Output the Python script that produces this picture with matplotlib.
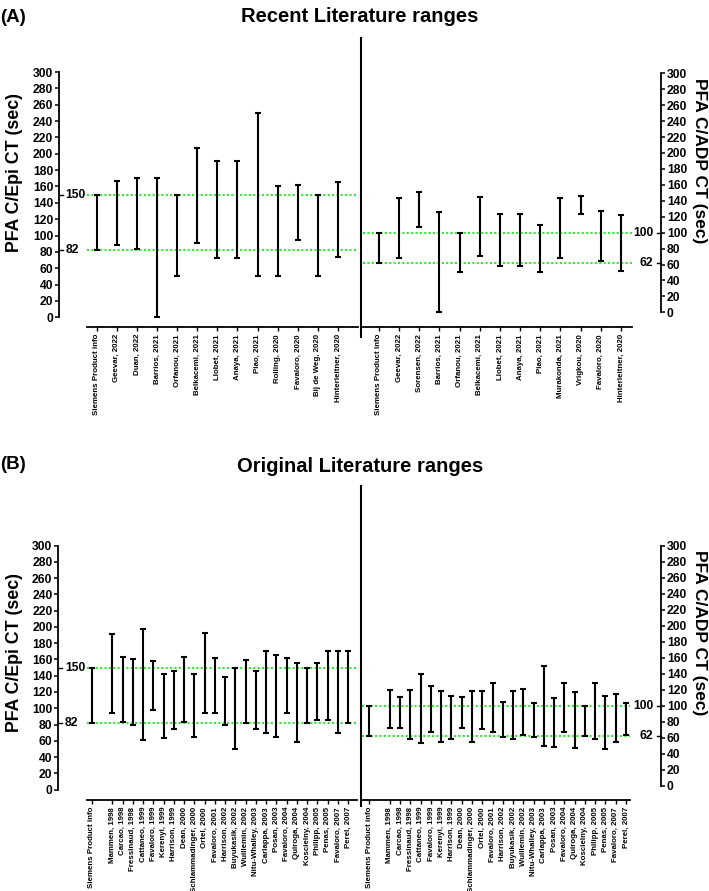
import matplotlib
matplotlib.use("Agg")
import matplotlib.pyplot as plt
from matplotlib.lines import Line2D
from matplotlib.transforms import ScaledTranslation, blended_transform_factory, IdentityTransform

plt.rcParams['font.family'] = ['Liberation Sans', 'DejaVu Sans']
plt.rcParams['font.weight'] = 'bold'

# ---------------- data ----------------
epi_ref = [82, 150]
adp_ref = [62, 100]

cats_a_epi = ["Siemens Product info", "Geevar, 2022", "Duan, 2022", "Barrios, 2021",
              "Orfanou, 2021", "Belkacemi, 2021", "Llobet, 2021", "Anaya, 2021",
              "Piao, 2021", "Rolling, 2020", "Favaloro, 2020", "Bij de Weg, 2020",
              "Hinterleitner, 2020"]
epi_a_low = [82, 89, 84, 0, 50, 91, 72, 72, 50, 50, 94, 50, 74]
epi_a_high = [150, 167, 170, 170, 150, 207, 191, 191, 250, 161, 162, 150, 165]

cats_a_adp = ["Siemens Product info", "Geevar, 2022", "Sorensen, 2022", "Barrios, 2021",
              "Orfanou, 2021", "Belkacemi, 2021", "Llobet, 2021", "Anaya, 2021",
              "Piao, 2021", "Murakonda, 2021", "Vrigkou, 2020", "Favaloro, 2020",
              "Hinterleitner, 2020"]
adp_a_low = [62, 68, 107, 0, 50, 71, 58, 58, 50, 68, 123, 64, 52]
adp_a_high = [100, 143, 151, 126, 100, 145, 123, 123, 110, 143, 146, 127, 122]

cats_b = ["Siemens Product info", "Mammen, 1998", "Carcao, 1998", "Fressinaud, 1998",
          "Cattaneo, 1999", "Favaloro, 1999", "Kerenyi, 1999", "Harrison, 1999",
          "Dean, 2000", "Schlammadinger, 2000", "Ortel, 2000", "Favaloro, 2001",
          "Harrison, 2002", "Buyukasik, 2002", "Wuillemin, 2002", "Nitu-Whalley, 2003",
          "Carlappa, 2003", "Posan, 2003", "Favaloro, 2004", "Quiroga, 2004",
          "Koscielny, 2004", "Philipp, 2005", "Penas, 2005", "Favaloro, 2007",
          "Perel, 2007"]
epi_b_low = [82, 94, 83, 80, 61, 98, 63, 74, 83, 65, 94, 94, 79, 50, 82, 74, 70, 65,
             94, 59, 82, 86, 85, 70, 82]
epi_b_high = [150, 191, 163, 160, 197, 158, 142, 146, 163, 142, 193, 162, 139, 150,
              159, 146, 170, 165, 162, 156, 150, 156, 171, 170, 170]
adp_b_low = [62, 72, 72, 59, 54, 67, 55, 59, 72, 55, 71, 67, 61, 58, 63, 61, 50, 49,
             67, 47, 62, 59, 46, 55, 63]
adp_b_high = [100, 120, 111, 120, 140, 125, 118, 112, 111, 118, 118, 128, 105, 118,
              121, 103, 150, 110, 128, 117, 100, 128, 112, 115, 104]

yticks = list(range(0, 301, 20))

# ---------------- layout ----------------
W, H = 709, 891
DPI = 100
fig = plt.figure(figsize=(W / DPI, H / DPI), dpi=DPI)
GREEN = '#2bef2b'


def add_ax(l, r, top, bottom):
    return fig.add_axes([l / W, 1 - bottom / H, (r - l) / W, (bottom - top) / H])


def offset_tr(ax, dx):
    return ax.get_yaxis_transform() + ScaledTranslation(dx / DPI, 0, fig.dpi_scale_trans)


def panel(ax, cats, low, high, ref, xpos, xlim, side, spine_out, bottom_out, capsize,
          edge_px):
    ax.set_xlim(*xlim)
    ax.set_ylim(0, 300)
    ax.patch.set_alpha(0)
    for s in ['top', 'left', 'right']:
        ax.spines[s].set_visible(False)
    sp = ax.spines[side]
    sp.set_visible(True)
    sp.set_position(('outward', spine_out * 0.72))
    sp.set_bounds(0, 300)
    sp.set_linewidth(1.3)
    ax.spines['bottom'].set_position(('outward', bottom_out * 0.72))
    ax.spines['bottom'].set_linewidth(1.3)
    if side == 'right':
        ax.yaxis.tick_right()
    else:
        ax.yaxis.tick_left()
    ax.set_yticks(yticks)
    ax.tick_params(axis='y', length=3, width=1.1, pad=1.2, labelsize=8.7)
    for t in ax.get_yticklabels():
        t.set_fontweight('bold')
    ax.set_xticks(xpos)
    ax.set_xticklabels(cats, rotation=90, fontsize=5.7, fontweight='bold')
    ax.tick_params(axis='x', length=3, width=1.0, pad=2)

    for r in ref:
        ax.axhline(r, color=GREEN, lw=1.5, dashes=(1, 1.1), zorder=1)

    mids = [(a + b) / 2 for a, b in zip(low, high)]
    half = [(b - a) / 2 for a, b in zip(low, high)]
    ax.errorbar(xpos, mids, yerr=half, fmt='none', ecolor='black', elinewidth=1.5,
                capsize=capsize, capthick=1.5, clip_on=False, zorder=3)

    # reference-value labels and ticks on the inner side of the spine
    px_tr = blended_transform_factory(IdentityTransform(), ax.transData)
    for r in ref:
        if side == 'left':
            sx = edge_px - spine_out
            ax.add_line(Line2D([sx, sx + 4], [r, r], transform=px_tr, color='black',
                               lw=1.0, clip_on=False))
            ax.text(0, r, str(r), transform=offset_tr(ax, -spine_out + 6.5), ha='left',
                    va='center', fontsize=8.7, fontweight='bold')
        else:
            sx = edge_px + spine_out
            ax.add_line(Line2D([sx - 4, sx], [r, r], transform=px_tr, color='black',
                               lw=1.0, clip_on=False))
            ax.text(1, r, str(r), transform=offset_tr(ax, spine_out - 7.5),
                    ha='right', va='center', fontsize=8.7, fontweight='bold')


# Panel A
axA1 = add_ax(87, 358, 72.0, 317.3)
posA = list(range(len(cats_a_epi)))
panel(axA1, cats_a_epi, epi_a_low, epi_a_high, epi_ref, posA, (-0.48, 12.99), 'left',
      28, 9.7, 2.5, 87)

axA2 = add_ax(363, 632, 73.3, 312.3)
posA2 = list(range(len(cats_a_adp)))
panel(axA2, cats_a_adp, adp_a_low, adp_a_high, adp_ref, posA2, (-0.79, 12.55), 'right',
      29, 14.7, 2.5, 632)

# Panel B (gap after the product info entry)
posB = [0] + list(range(2, len(cats_b) + 1))
axB1 = add_ax(87, 357, 545.6, 789.6)
panel(axB1, cats_b, epi_b_low, epi_b_high, epi_ref, posB, (-0.46, 25.85), 'left',
      28.7, 10.4, 2.2, 87)

axB2 = add_ax(362, 630, 545.7, 785.7)
panel(axB2, cats_b, adp_b_low, adp_b_high, adp_ref, posB, (-0.71, 25.39), 'right',
      31, 14.3, 2.2, 630)


def ftext(x, y, s, **kw):
    fig.text(x / W, 1 - y / H, s, **kw)


ftext(14.5, 173, 'PFA C/Epi CT (sec)', rotation=90, ha='center', va='center',
      fontsize=12.8, fontweight='bold')
ftext(700, 161, 'PFA C/ADP CT (sec)', rotation=270, ha='center', va='center',
      fontsize=12.5, fontweight='bold')
ftext(14.5, 652, 'PFA C/Epi CT (sec)', rotation=90, ha='center', va='center',
      fontsize=12.8, fontweight='bold')
ftext(700, 633, 'PFA C/ADP CT (sec)', rotation=270, ha='center', va='center',
      fontsize=12.5, fontweight='bold')

ftext(360, 17, 'Recent Literature ranges', ha='center', va='center', fontsize=14.5,
      fontweight='bold')
ftext(0, 17, '(A)', ha='left', va='center', fontsize=13.5, fontweight='bold')
ftext(360, 467, 'Original Literature ranges', ha='center', va='center', fontsize=14.5,
      fontweight='bold')
ftext(0, 465, '(B)', ha='left', va='center', fontsize=13.5, fontweight='bold')

# divider lines
for y0, y1 in [(38, 337), (486, 806)]:
    fig.add_artist(Line2D([360.5 / W, 360.5 / W], [1 - y0 / H, 1 - y1 / H],
                          transform=fig.transFigure, color='black', lw=1.5))

fig.savefig('out.png', dpi=DPI)
